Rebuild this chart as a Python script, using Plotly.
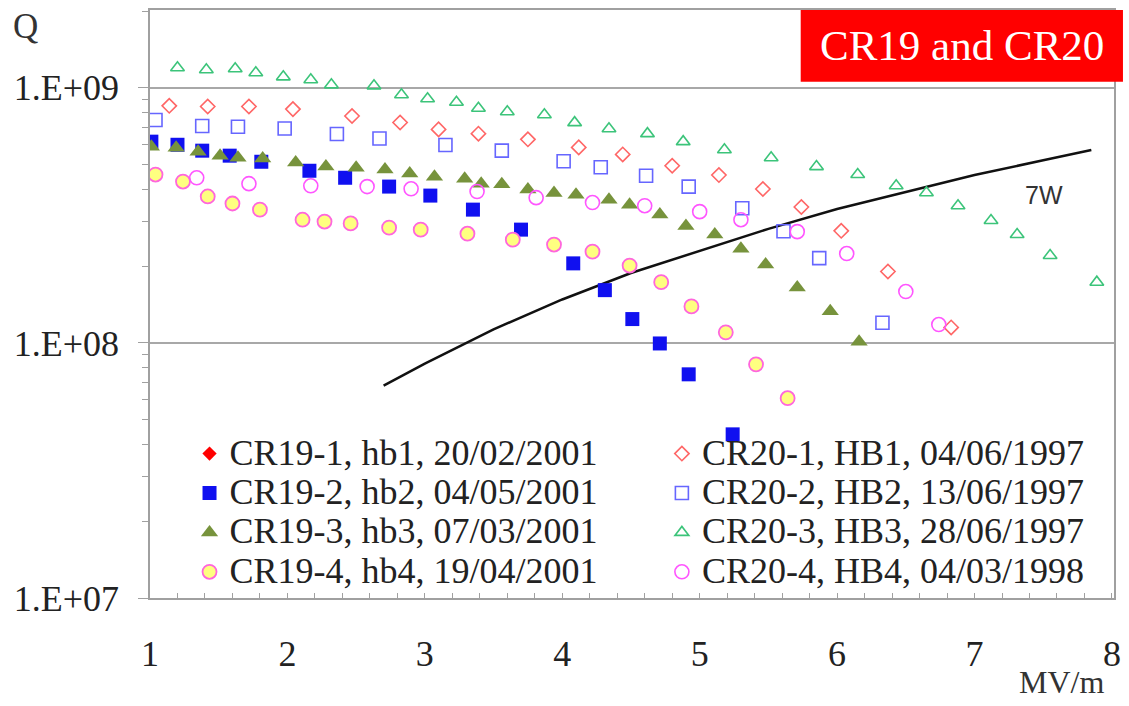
import plotly.graph_objects as go

# ---------------- data ----------------
CR19_1_E = [None]
CR19_1_Q = [None]

CR19_2_E = [1.01, 1.20, 1.38, 1.58, 1.81, 2.16, 2.42, 2.74, 3.04, 3.35, 3.70, 4.08, 4.31, 4.51, 4.71, 4.92, 5.24]
CR19_2_Q = [6.15e8, 5.98e8, 5.67e8, 5.42e8, 5.13e8, 4.73e8, 4.44e8, 4.10e8, 3.78e8, 3.33e8, 2.78e8, 2.05e8,
            1.61e8, 1.24e8, 9.95e7, 7.53e7, 4.38e7]

CR19_3_E = [1.01, 1.19, 1.35, 1.51, 1.64, 1.82, 2.06, 2.28, 2.50, 2.71, 2.89, 3.07, 3.29, 3.41, 3.56, 3.75,
            3.94, 4.10, 4.34, 4.49, 4.71, 4.90, 5.11, 5.30, 5.48, 5.71, 5.95, 6.16]
CR19_3_Q = [5.88e8, 5.82e8, 5.62e8, 5.42e8, 5.32e8, 5.28e8, 5.09e8, 4.91e8, 4.86e8, 4.78e8, 4.61e8, 4.48e8,
            4.40e8, 4.21e8, 4.19e8, 3.99e8, 3.87e8, 3.81e8, 3.64e8, 3.48e8, 3.19e8, 2.87e8, 2.66e8, 2.34e8,
            2.03e8, 1.65e8, 1.33e8, 1.01e8]

CR19_4_E = [1.04, 1.24, 1.42, 1.60, 1.80, 2.11, 2.27, 2.46, 2.74, 2.97, 3.31, 3.64, 3.94, 4.22, 4.49, 4.72,
            4.94, 5.19, 5.41, 5.64]
CR19_4_Q = [4.57e8, 4.29e8, 3.75e8, 3.52e8, 3.33e8, 3.04e8, 2.99e8, 2.94e8, 2.83e8, 2.78e8, 2.68e8, 2.54e8,
            2.43e8, 2.28e8, 2.01e8, 1.73e8, 1.39e8, 1.10e8, 8.24e7, 6.07e7]

CR20_1_E = [1.14, 1.42, 1.72, 2.04, 2.47, 2.82, 3.10, 3.39, 3.75, 4.12, 4.44, 4.80, 5.14, 5.46, 5.74, 6.03,
            6.37, 6.83]
CR20_1_Q = [8.50e8, 8.45e8, 8.45e8, 8.25e8, 7.75e8, 7.31e8, 6.87e8, 6.61e8, 6.28e8, 5.84e8, 5.48e8, 4.95e8,
            4.55e8, 4.01e8, 3.41e8, 2.75e8, 1.905e8, 1.15e8]

CR20_2_E = [1.04, 1.38, 1.64, 1.98, 2.36, 2.67, 3.15, 3.56, 4.01, 4.28, 4.61, 4.92, 5.31, 5.61, 5.87, 6.33]
CR20_2_Q = [7.48e8, 7.08e8, 7.04e8, 6.93e8, 6.59e8, 6.33e8, 5.97e8, 5.67e8, 5.15e8, 4.88e8, 4.52e8, 4.10e8,
            3.37e8, 2.74e8, 2.15e8, 1.20e8]

CR20_3_E = [1.20, 1.41, 1.62, 1.77, 1.97, 2.17, 2.32, 2.63, 2.83, 3.02, 3.23, 3.39, 3.60, 3.87, 4.09, 4.34,
            4.62, 4.88, 5.18, 5.52, 5.85, 6.15, 6.43, 6.65, 6.88, 7.12, 7.31, 7.55, 7.89]
CR20_3_Q = [1.198e9, 1.177e9, 1.187e9, 1.145e9, 1.104e9, 1.075e9, 1.027e9, 1.018e9, 9.39e8, 9.06e8, 8.78e8,
            8.31e8, 8.06e8, 7.84e8, 7.30e8, 6.91e8, 6.61e8, 6.15e8, 5.72e8, 5.32e8, 4.91e8, 4.57e8, 4.13e8,
            3.88e8, 3.45e8, 3.02e8, 2.66e8, 2.20e8, 1.73e8]

CR20_4_E = [1.34, 1.72, 2.17, 2.58, 2.90, 3.38, 3.81, 4.22, 4.60, 5.00, 5.30, 5.71, 6.07, 6.50, 6.74]
CR20_4_Q = [4.44e8, 4.21e8, 4.13e8, 4.10e8, 4.02e8, 3.92e8, 3.71e8, 3.55e8, 3.45e8, 3.27e8, 3.04e8, 2.73e8,
            2.24e8, 1.59e8, 1.18e8]

W7_E = [2.7, 3.0, 3.5, 4.0, 4.5, 5.0, 5.5, 6.0, 6.5, 7.0, 7.5, 7.85]
W7_Q = [6.8e7, 8.3e7, 1.13e8, 1.48e8, 1.88e8, 2.3e8, 2.8e8, 3.35e8, 3.9e8, 4.55e8, 5.2e8, 5.7e8]

Y_TICKVALS = [1e7, 1e8, 1e9]
Y_TICKTEXT = ["1.E+07", "1.E+08", "1.E+09"]

NAMES = ["CR19-1, hb1, 20/02/2001", "CR19-2, hb2, 04/05/2001", "CR19-3, hb3, 07/03/2001",
         "CR19-4, hb4, 19/04/2001", "CR20-1, HB1, 04/06/1997", "CR20-2, HB2, 13/06/1997",
         "CR20-3, HB3, 28/06/1997", "CR20-4, HB4, 04/03/1998"]

# ---------------- figure ----------------
SERIF = "Liberation Serif, Times New Roman, serif"
AXC = "#a0a0a0"
TXT = "#222222"


def lab(n):
    # larger glyphs inside a tightly spaced legend row
    return "<span style='font-size:36px'>" + n + "</span>"


fig = go.Figure()

fig.add_trace(go.Scatter(x=W7_E, y=W7_Q, mode="lines", line=dict(color="#111111", width=2.5),
                         showlegend=False, hoverinfo="skip"))

fig.add_trace(go.Scatter(x=CR19_1_E, y=CR19_1_Q, mode="markers", name=lab(NAMES[0]), legend="legend",
                         marker=dict(symbol="diamond", size=11, color="#ff0000")))
fig.add_trace(go.Scatter(x=CR19_2_E, y=CR19_2_Q, mode="markers", name=lab(NAMES[1]), legend="legend",
                         marker=dict(symbol="square", size=14, color="#1010f0")))
fig.add_trace(go.Scatter(x=CR19_3_E, y=CR19_3_Q, mode="markers", name=lab(NAMES[2]), legend="legend",
                         marker=dict(symbol="triangle-up", size=15, color="#77933c")))
fig.add_trace(go.Scatter(x=CR19_4_E, y=CR19_4_Q, mode="markers", name=lab(NAMES[3]), legend="legend",
                         marker=dict(symbol="circle", size=14, color="#ffff80",
                                     line=dict(color="#ff66dd", width=1.8))))

fig.add_trace(go.Scatter(x=CR20_1_E, y=CR20_1_Q, mode="markers", name=lab(NAMES[4]), legend="legend2",
                         marker=dict(symbol="diamond-open", size=11, color="#ff6666",
                                     line=dict(width=1.6))))
fig.add_trace(go.Scatter(x=CR20_2_E, y=CR20_2_Q, mode="markers", name=lab(NAMES[5]), legend="legend2",
                         marker=dict(symbol="square-open", size=13, color="#6666ff",
                                     line=dict(width=1.6))))
fig.add_trace(go.Scatter(x=CR20_3_E, y=CR20_3_Q, mode="markers", name=lab(NAMES[6]), legend="legend2",
                         marker=dict(symbol="triangle-up-open", size=12, color="#3cc47a",
                                     line=dict(width=1.6))))
fig.add_trace(go.Scatter(x=CR20_4_E, y=CR20_4_Q, mode="markers", name=lab(NAMES[7]), legend="legend2",
                         marker=dict(symbol="circle-open", size=14, color="#ff55ff",
                                     line=dict(width=1.6))))

minor_y = [k * 10 ** e for e in (7, 8) for k in range(2, 10)] + [2e9]

fig.update_layout(
    width=1129, height=706,
    margin=dict(l=150, r=9, t=8, b=108),
    paper_bgcolor="white", plot_bgcolor="white",
    font=dict(family=SERIF, color=TXT),
    xaxis=dict(range=[1, 8.015], tick0=1, dtick=1, showgrid=False, zeroline=False,
               showline=True, linecolor=AXC, linewidth=1.5, mirror=True,
               ticks="inside", ticklen=5, tickcolor=AXC,
               minor=dict(dtick=0.2, tick0=1, ticks="inside", ticklen=5, tickcolor=AXC, showgrid=False),
               tickfont=dict(family=SERIF, size=36, color=TXT), ticklabelstandoff=23),
    yaxis=dict(type="log", range=[7, 9.305], tickmode="array", tickvals=Y_TICKVALS, ticktext=Y_TICKTEXT,
               showgrid=True, gridcolor="#a8a8a8", gridwidth=1.5, zeroline=False,
               showline=True, linecolor=AXC, linewidth=1.5, mirror=True,
               ticks="outside", ticklen=10, tickcolor=AXC,
               minor=dict(tickmode="array", tickvals=minor_y, ticks="outside", ticklen=6,
                          tickcolor=AXC, showgrid=False),
               tickfont=dict(family=SERIF, size=36, color=TXT), ticklabelstandoff=12),
    legend=dict(x=0.041, y=0.2876, xanchor="left", yanchor="top", bgcolor="rgba(0,0,0,0)",
                font=dict(family=SERIF, size=28, color=TXT), traceorder="normal"),
    legend2=dict(x=0.531, y=0.2876, xanchor="left", yanchor="top", bgcolor="rgba(0,0,0,0)",
                 font=dict(family=SERIF, size=28, color=TXT), traceorder="normal"),
    shapes=[dict(type="rect", xref="paper", yref="paper", x0=0.675, x1=1.0093, y0=0.878, y1=1.0,
                 fillcolor="#ff0000", line=dict(width=0), layer="above")],
    annotations=[
        dict(text="CR19 and CR20", xref="paper", yref="paper", x=0.842, y=0.939, showarrow=False,
             xanchor="center", yanchor="middle", font=dict(family=SERIF, size=43, color="white")),
        dict(text="7W", xref="paper", yref="paper", x=0.927, y=0.686, showarrow=False,
             xanchor="center", yanchor="middle",
             font=dict(family="Liberation Sans, Arial, sans-serif", size=25, color="#333333")),
        dict(text="Q", xref="paper", yref="paper", x=-0.129, y=0.972, showarrow=False,
             xanchor="center", yanchor="middle", font=dict(family=SERIF, size=35, color="#333333")),
        dict(text="MV/m", xref="paper", yref="paper", x=0.992, y=-0.1424, showarrow=False,
             xanchor="right", yanchor="middle", font=dict(family=SERIF, size=32, color="#333333")),
    ],
)

fig.write_html("out.html")
